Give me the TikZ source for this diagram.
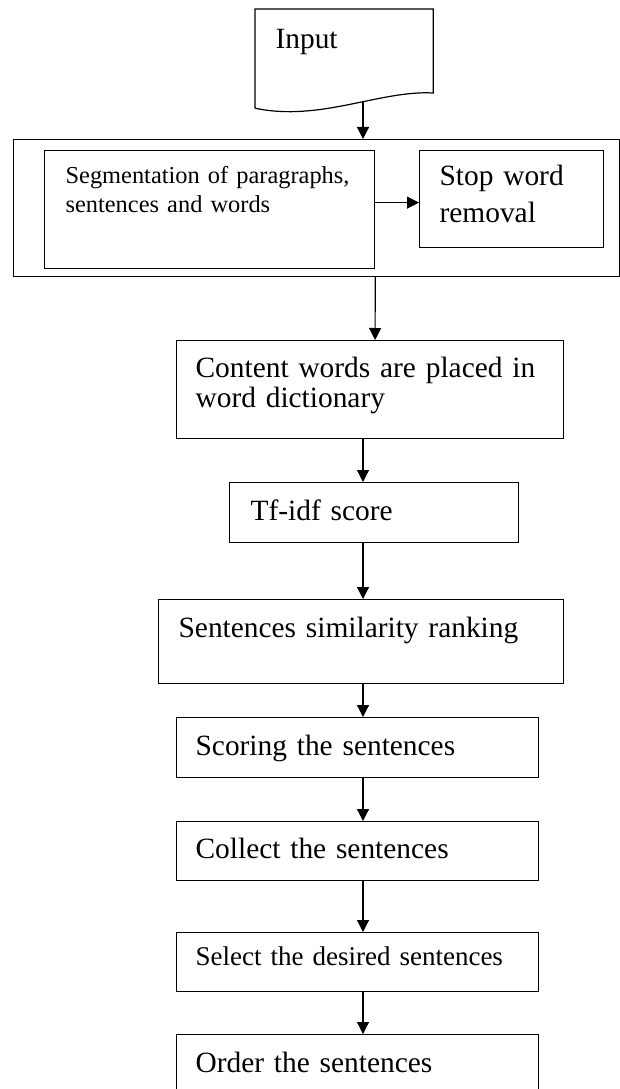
\documentclass[tikz,border=0pt]{standalone}
\usepackage{fontspec}
\setmainfont{Liberation Serif}
\usetikzlibrary{positioning,arrows.meta,calc}

\begin{document}
\begin{tikzpicture}[x=1pt,y=-1pt,line width=1.2pt,
        stepbox/.style={draw,anchor=north west,inner ysep=0pt,align=left,
          font=\fontsize{29.4}{36}\selectfont},
        flow/.style={-{Triangle[length=12pt,width=12pt]}}]
  \clip (0,0) rectangle (620,1089);
  % input document
  \node[stepbox,draw=none,inner xsep=20pt,text width=137pt,text height=39pt,text depth=59pt] (input) at (255,9) {Input};
  \draw (input.south west) -- (input.north west) -- (input.north east) -- ++(0,84)
    .. controls (380,90) and (320,122) .. (input.south west);
  \coordinate (inbot) at (363,102);
  % preprocessing group
  \node[draw,anchor=north west,minimum width=606pt,minimum height=137pt,inner sep=0pt] (group) at (13,139) {};
  \node[stepbox,inner xsep=21pt,text width=288pt,text height=33pt,text depth=85pt,
        font=\fontsize{24.4}{29}\selectfont] (seg) at (44,150) {Segmentation of paragraphs,\\ sentences and words};
  \node[stepbox,inner xsep=20pt,text width=144pt,text height=35pt,text depth=62pt,
        font=\fontsize{29.4}{37}\selectfont] (stop) at (419,150) {Stop word\\ removal};
  % main steps
  \node[stepbox,inner xsep=19pt,text width=349pt,text height=37pt,text depth=61pt,
        font=\fontsize{29.4}{30}\selectfont] (content) at (176,340) {Content words are placed in\\ word dictionary};
  \node[stepbox,inner xsep=21pt,text width=247pt,text height=38pt,text depth=22pt] (tfidf) at (229,482) {Tf-idf score};
  \node[stepbox,inner xsep=20pt,text width=365pt,text height=38pt,text depth=46pt] (simrank) at (158,599) {Sentences similarity ranking};
  \node[stepbox,inner xsep=19pt,text width=324pt,text height=38pt,text depth=22pt] (score) at (176,717) {Scoring the sentences};
  \node[stepbox,inner xsep=19pt,text width=324pt,text height=37pt,text depth=22pt] (collect) at (176,821) {Collect the sentences};
  \node[stepbox,inner xsep=19pt,text width=324pt,text height=33pt,text depth=26pt,
        font=\fontsize{27}{33}\selectfont] (select) at (176,932) {Select the desired sentences};
  \node[stepbox,inner xsep=19pt,text width=324pt,text height=38pt,text depth=28pt] (order) at (176,1034) {Order the sentences};
  % connectors
  \draw[flow] (inbot) -- (inbot |- group.north);
  \draw[flow] ([yshift=7pt]seg.east) -- ([yshift=7pt]seg.east -| stop.west);
  \draw[flow] (group.south -| seg.east) -- ([xshift=5pt]content.north);
  \coordinate (spine) at (363,0);
  \foreach \a/\b in {content/tfidf,tfidf/simrank,simrank/score,score/collect,collect/select,select/order}
    \draw[flow] (\a.south -| spine) -- (\b.north -| spine);
\end{tikzpicture}
\end{document}
